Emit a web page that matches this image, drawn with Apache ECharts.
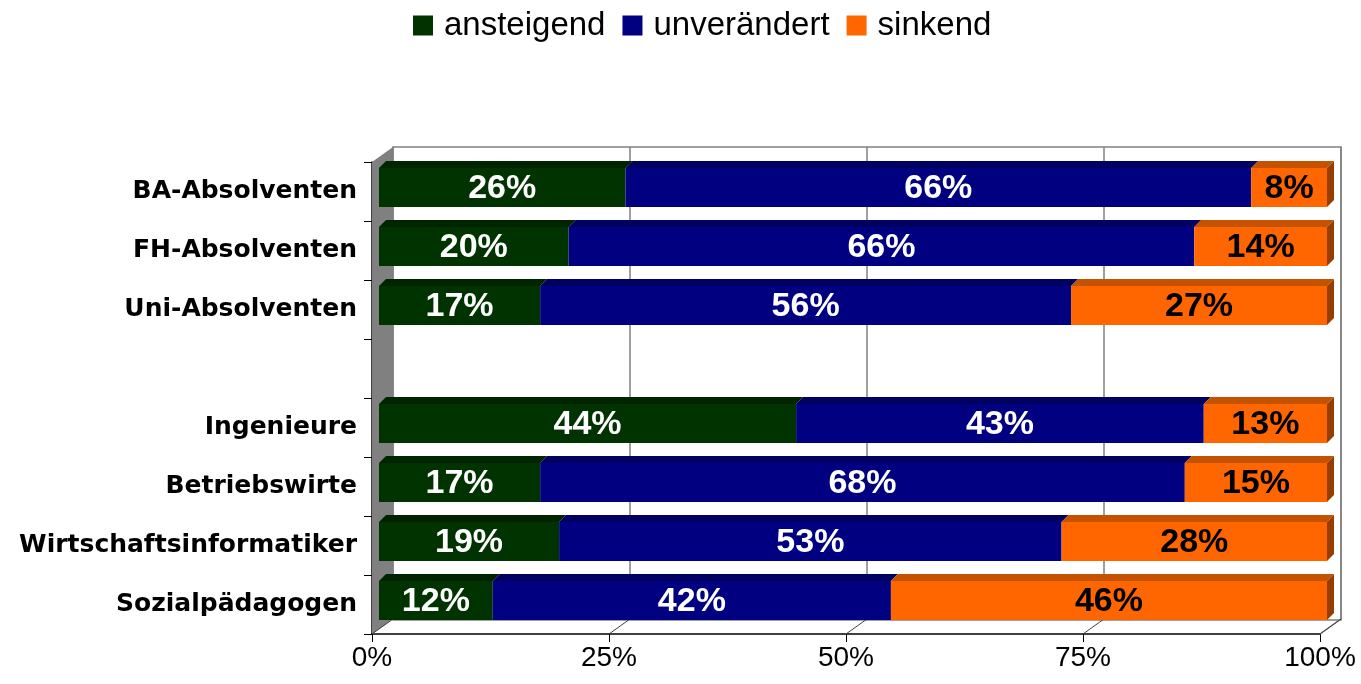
<!DOCTYPE html>
<html>
<head>
<meta charset="utf-8">
<script src="https://cdn.jsdelivr.net/npm/echarts@6/dist/echarts.min.js"></script>
<style>
  html, body { margin: 0; padding: 0; background: #fff; }
  #chart { width: 1361px; height: 684px; }
</style>
</head>
<body>
<div id="chart"></div>
<script>
// categories, '' is the empty gap row
var categories = ['BA-Absolventen', 'FH-Absolventen', 'Uni-Absolventen', '', 'Ingenieure', 'Betriebswirte', 'Wirtschaftsinformatiker', 'Sozialpädagogen'];
var seriesNames = ['ansteigend', 'unverändert', 'sinkend'];
var ansteigend = [26, 20, 17, null, 44, 17, 19, 12];
var unveraendert = [66, 66, 56, null, 43, 68, 53, 42];
var sinkend = [8, 14, 27, null, 13, 15, 28, 46];
var xTicks = [0, 25, 50, 75, 100];

// layout (front plane + depth offset)
var FL = 372, FT = 162, FW = 948, FH = 472;
var DX = 21, DY = -15;
var BX = 7, BY = -4;   // bar front face offset
var BD = 7;            // bar depth

var colors = [
  { front: '#003300', top: '#002400', text: '#fff' },
  { front: '#000080', top: '#000060', text: '#fff' },
  { front: '#FF6600', top: '#C45200', side: '#963E00', text: '#000' }
];

// stack the values
var seriesValues = [ansteigend, unveraendert, sinkend];
var stacked = [[], [], []];
categories.forEach(function (c, i) {
  var acc = 0;
  seriesValues.forEach(function (vals, s) {
    if (vals[i] == null) return;
    stacked[s].push([acc, acc + vals[i], i, vals[i]]);
    acc += vals[i];
  });
});

function renderBar(params, api) {
  var s = api.value(0), e = api.value(1), c = api.value(2), v = api.value(3);
  var p0 = api.coord([s, c]);
  var p1 = api.coord([e, c]);
  var h = api.size([0, 1])[1] * 0.66;
  var col = colors[params.seriesIndex];
  var x0 = p0[0] + BX, x1 = p1[0] + BX;
  var top = p0[1] + BY - h / 2, bot = top + h;
  var children = [
    { type: 'polygon', shape: { points: [[x0, top], [x1, top], [x1 + BD, top - BD], [x0 + BD, top - BD]] },
      style: { fill: col.top } },
    { type: 'rect', shape: { x: x0, y: top, width: x1 - x0, height: h }, style: { fill: col.front } }
  ];
  if (col.side) {
    children.push({ type: 'polygon', shape: { points: [[x1, top], [x1 + BD, top - BD], [x1 + BD, bot - BD], [x1, bot]] },
      style: { fill: col.side } });
  }
  children.push({
    type: 'text',
    style: {
      text: v + '%', x: (x0 + x1) / 2, y: top + h / 2 + 1,
      align: 'center', verticalAlign: 'middle',
      fill: col.text, font: 'bold 34px "Liberation Sans", Arial, sans-serif'
    }
  });
  return { type: 'group', children: children };
}

// walls and floor lines
var graphics = [
  { type: 'polygon', z: 1, shape: { points: [[FL, FT], [FL + DX, FT + DY], [FL + DX, FT + FH + DY], [FL, FT + FH]] },
    style: { fill: '#808080' } },
  { type: 'line', z: 1, shape: { x1: FL + FW, y1: FT + FH, x2: FL + FW + DX, y2: FT + FH + DY },
    style: { stroke: '#808080', lineWidth: 1.5 } }
];
xTicks.forEach(function (t) {
  var x = FL + t / 100 * FW;
  graphics.push({ type: 'line', z: 1, shape: { x1: x, y1: FT + FH, x2: x + DX, y2: FT + FH + DY },
    style: { stroke: '#404040', lineWidth: 1 } });
});

var chart = echarts.init(document.getElementById('chart'));
var option = {
  animation: false,
  backgroundColor: '#fff',
  legend: {
    data: seriesNames,
    top: 4,
    left: 408,
    icon: 'rect',
    itemWidth: 20,
    itemHeight: 20,
    itemGap: 17,
    textStyle: { fontSize: 33, color: '#000', padding: [0, 0, 0, 6],
      fontFamily: '"Liberation Sans", Arial, sans-serif' }
  },
  graphic: graphics,
  grid: [
    { left: FL, top: FT, width: FW, height: FH, z: 3 },
    { left: FL + DX, top: FT + DY, width: FW, height: FH + 1, show: true,
      backgroundColor: '#fff', borderColor: '#808080', borderWidth: 1.5, z: 0 }
  ],
  xAxis: [
    {
      gridIndex: 0, type: 'value', min: 0, max: 100, interval: 25,
      axisLine: { show: true, lineStyle: { color: '#000', width: 1.5 } },
      axisTick: { show: true, length: 8, lineStyle: { color: '#000' } },
      axisLabel: { formatter: '{value}%', margin: 10, color: '#000', fontSize: 28,
        fontFamily: '"Liberation Sans", Arial, sans-serif' },
      splitLine: { show: false }
    },
    {
      gridIndex: 1, type: 'value', min: 0, max: 100, interval: 25,
      axisLine: { show: false }, axisTick: { show: false }, axisLabel: { show: false },
      splitLine: { show: true, lineStyle: { color: '#808080', width: 1.5 } }
    }
  ],
  yAxis: [
    {
      gridIndex: 0, type: 'category', data: categories, inverse: true,
      axisLine: { show: true, lineStyle: { color: '#000', width: 1.5 } },
      axisTick: { show: true, length: 8, lineStyle: { color: '#000' } },
      axisLabel: { margin: 15, color: '#000', fontSize: 25, fontWeight: 'bold',
        fontFamily: '"DejaVu Sans", sans-serif' },
      splitLine: { show: false }
    },
    {
      gridIndex: 1, type: 'category', data: categories, inverse: true, show: false
    }
  ],
  series: stacked.map(function (d, s) {
    return {
      name: seriesNames[s],
      type: 'custom',
      xAxisIndex: 0,
      yAxisIndex: 0,
      z: 5,
      itemStyle: { color: colors[s].front },
      encode: { x: [0, 1], y: 2 },
      data: d,
      renderItem: renderBar
    };
  })
};
chart.setOption(option);
</script>
</body>
</html>
